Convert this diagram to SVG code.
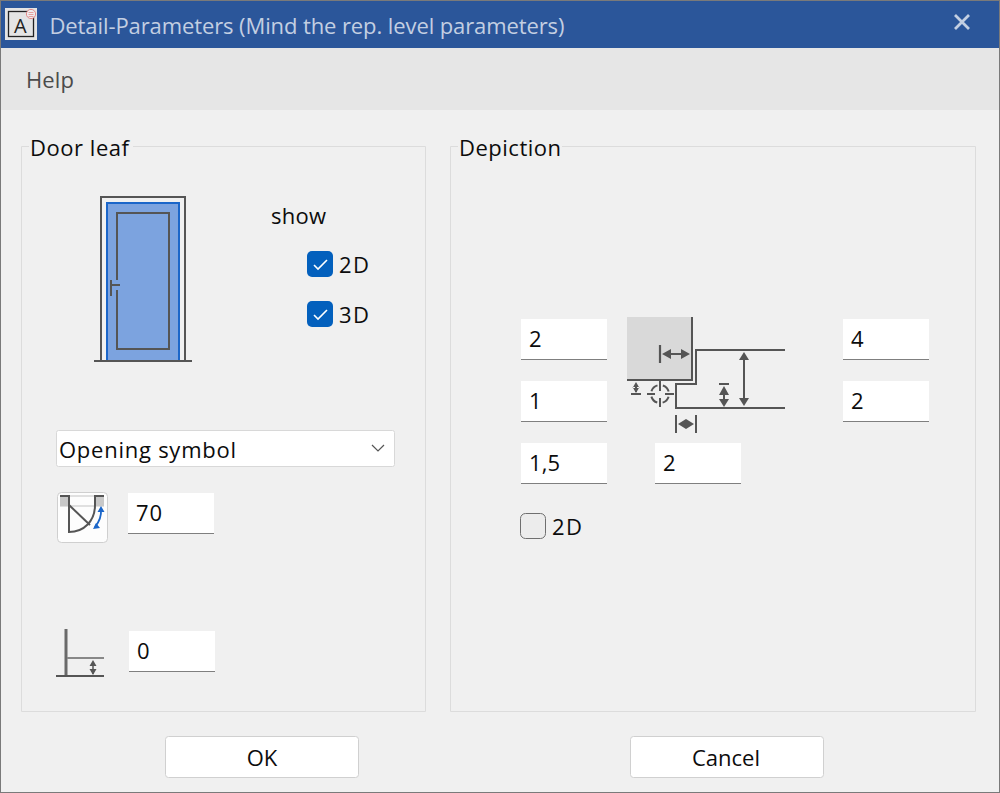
<svg xmlns="http://www.w3.org/2000/svg" width="1000" height="793" viewBox="0 0 1000 793">
<style>
text{font-family:"Open Sans","Noto Sans","Liberation Sans",sans-serif;font-size:22px;fill:#0c0c0c}
.fld{fill:#fff}
.ul{fill:#7f7f7f}
.g{fill:none;stroke:#555;stroke-width:2}
.g2{fill:none;stroke:#555;stroke-width:2.2}
.ar{fill:#555}
.grp{fill:none;stroke:#dcdcdc;stroke-width:1}
.btn{fill:#fff;stroke:#d0d0d0;stroke-width:1}
.cb{fill:#0360bd}
.chk{fill:none;stroke:#fff;stroke-width:1.6}
</style>
<rect width="1000" height="793" fill="#f0f0f0"/>
<rect x="0" y="0" width="1000" height="48" fill="#2b569a"/>
<rect x="1" y="48" width="998" height="62" fill="#e6e6e6"/>
<rect x="0.5" y="0.5" width="999" height="792" fill="none" stroke="#7a7a7a"/>
<g id="titlebar">
<rect x="5" y="8" width="32" height="32" fill="#e4e4e4"/>
<rect x="8.500" y="11.500" width="25" height="25" fill="none" stroke="#222" stroke-width="1.300"/>
<text x="14" y="33" style="font-size:20px;fill:#222" textLength="14">A</text>
<circle cx="31" cy="14" r="4.600" fill="#eee" stroke="#e38a8a"/>
<path d="M28.500 12.500h5M28.500 14.500h5M28.500 16.500h5" stroke="#e38a8a" stroke-width="0.800"/>
<text x="49.500" y="34" style="fill:#c3cfe2" textLength="515">Detail-Parameters (Mind the rep. level parameters)</text>
<path d="M955 15l14 14M969 15l-14 14" stroke="#c3cfe2" stroke-width="2.800" fill="none"/>
</g>
<g id="menu"><text x="26" y="88" style="fill:#4b4b4b" textLength="48">Help</text></g>

<g id="door-leaf-group">
<path class="grp" d="M29 146.500H21.500V711.500H425.500V146.500H133"/>
<text x="30" y="156" textLength="99">Door leaf</text>
</g>
<g id="door-leaf-icon">
<rect x="107" y="203" width="72" height="158" fill="#7ca3df" stroke="#1b66c9" stroke-width="2"/>
<path class="g" d="M101 361V197H185V361"/>
<path class="g" d="M94 361H192"/>
<path class="g" d="M117 280V213H169V349H117V290"/>
<path class="g" d="M111 280V296M111 285H120"/>
</g>
<g id="show"><text x="271" y="224" textLength="55">show</text></g>
<g id="check-2d">
<rect class="cb" x="307" y="251" width="26" height="26" rx="5"/>
<path class="chk" d="M314 265l4 4l9-9"/>
<text x="339" y="273" textLength="30">2D</text>
</g>
<g id="check-3d">
<rect class="cb" x="307" y="301" width="26" height="26" rx="5"/>
<path class="chk" d="M314 315l4 4l9-9"/>
<text x="339" y="323" textLength="30">3D</text>
</g>
<g id="opening-symbol">
<rect x="56.500" y="430.500" width="338" height="36" rx="2" fill="#fff" stroke="#d8d8d8"/>
<text x="59" y="458" textLength="177">Opening symbol</text>
<path d="M372 445l6 6l6-6" fill="none" stroke="#555" stroke-width="1.200"/>
</g>
<g id="opening-angle-button">
<rect x="57.500" y="492.500" width="50" height="50" rx="4" fill="#fdfdfd" stroke="#cfcfcf"/>
<rect x="60" y="495" width="44" height="2" fill="#e0e0e0"/>
<rect x="60" y="505" width="44" height="2" fill="#e0e0e0"/>
<rect x="60" y="496" width="10" height="10" fill="#c8c8c8"/>
<rect x="94" y="496" width="10" height="10" fill="#c8c8c8"/>
<path class="g" d="M60 496H69V532C84 532 95 521 95 505V496H104"/>
<path class="g" d="M69 505L90 525"/>
<path d="M95 527C99 522 101.500 516 101 510" fill="none" stroke="#1b66c9" stroke-width="1.800"/>
<path d="M101 506l-3.500 6h7zM93 529l7-1l-4-5z" fill="#1b66c9"/>
</g>
<g id="field-angle">
<rect class="fld" x="128" y="493" width="86" height="40"/><rect class="ul" x="128" y="533" width="86" height="1"/>
<text x="136" y="521" textLength="26">70</text>
</g>
<g id="height-icon">
<path d="M66 629V676" stroke="#6a6a6a" stroke-width="3" fill="none"/>
<path d="M67 658H104" stroke="#888" stroke-width="2" fill="none"/>
<path class="g" d="M56 676H104"/>
<path d="M93 663V674" stroke="#555" stroke-width="1.500"/>
<path class="ar" d="M93 660l-3.500 6h7zM93 675l-3.500-6h7z"/>
</g>
<g id="field-height">
<rect class="fld" x="129" y="631" width="86" height="40"/><rect class="ul" x="129" y="671" width="86" height="1"/>
<text x="137" y="659" textLength="13">0</text>
</g>

<g id="depiction-group">
<path class="grp" d="M458 146.500H450.500V711.500H975.500V146.500H562"/>
<text x="459" y="156" textLength="102">Depiction</text>
</g>
<g id="field-d1"><rect class="fld" x="521" y="319" width="86" height="40"/><rect class="ul" x="521" y="359" width="86" height="1"/><text x="529" y="347" textLength="13">2</text></g>
<g id="field-d2"><rect class="fld" x="521" y="381" width="86" height="40"/><rect class="ul" x="521" y="421" width="86" height="1"/><text x="529" y="409" textLength="13">1</text></g>
<g id="field-d3"><rect class="fld" x="521" y="443" width="86" height="40"/><rect class="ul" x="521" y="483" width="86" height="1"/><text x="529" y="471" textLength="31">1,5</text></g>
<g id="field-d4"><rect class="fld" x="655" y="443" width="86" height="40"/><rect class="ul" x="655" y="483" width="86" height="1"/><text x="663" y="471" textLength="13">2</text></g>
<g id="field-d5"><rect class="fld" x="843" y="319" width="86" height="40"/><rect class="ul" x="843" y="359" width="86" height="1"/><text x="851" y="347" textLength="13">4</text></g>
<g id="field-d6"><rect class="fld" x="843" y="381" width="86" height="40"/><rect class="ul" x="843" y="421" width="86" height="1"/><text x="851" y="409" textLength="13">2</text></g>
<g id="depiction-icon">
<rect x="627" y="317" width="65" height="63" fill="#d9d9d9"/>
<path class="g" d="M692 317V380H627"/>
<path class="g" d="M785 350H696V384H676V408H785"/>
<path class="g2" d="M660 345V363"/>
<path class="g" d="M666 354H686"/>
<path class="ar" d="M662 354l9-5v10zM690 354l-9-5v10z"/>
<path class="g" d="M744 356V402"/>
<path class="ar" d="M744 352l-5 8h10zM744 406l-5-8h10z"/>
<path class="g" d="M719 384H729M724 390V402"/>
<path class="ar" d="M724 386l-5 9h10zM724 407l-5-8h10z"/>
<path class="g" d="M631 394H641M636 385V392"/>
<path class="ar" d="M636 382l-3.500 6h7zM636 393l-3.500-6h7z"/>
<path class="g" d="M660 380V391M660 398V407M647 394H655M665 394H674"/>
<circle cx="660" cy="394" r="9" fill="none" stroke="#555" stroke-width="2" stroke-dasharray="8.600 5.500" stroke-dashoffset="-2.750"/>
<path class="g" d="M676 415V433M696 415V433"/>
<path class="ar" d="M678 424l8-5v10zM694 424l-8-5v10z"/>
</g>
<g id="check-depiction-2d">
<rect x="520.500" y="513.500" width="25" height="25" rx="5" fill="#ececec" stroke="#6f6f6f"/>
<text x="552" y="535" textLength="30">2D</text>
</g>
<g id="btn-ok"><rect class="btn" x="165.500" y="736.500" width="193" height="41" rx="3"/><text x="262" y="766" text-anchor="middle">OK</text></g>
<g id="btn-cancel"><rect class="btn" x="630.500" y="736.500" width="193" height="41" rx="3"/><text x="726" y="766" text-anchor="middle">Cancel</text></g>
</svg>
